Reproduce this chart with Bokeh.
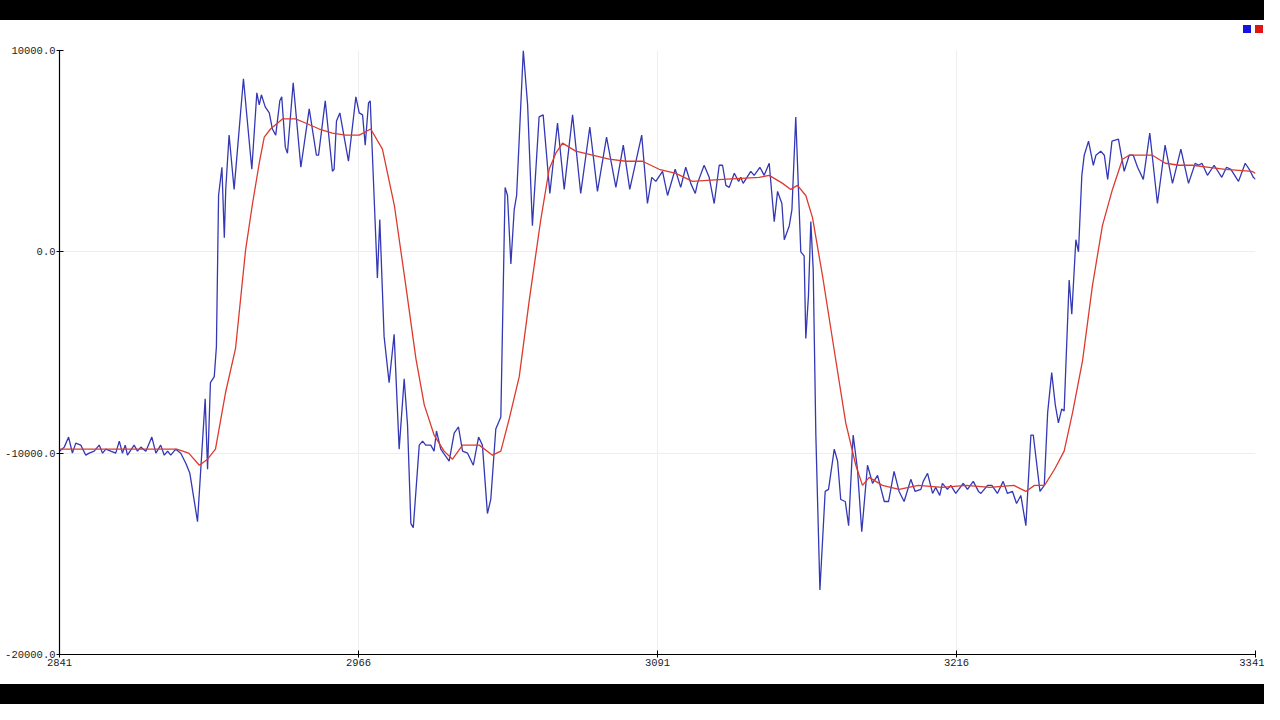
from bokeh.plotting import figure
from bokeh.models import Range1d, FixedTicker, PrintfTickFormatter, Div
from bokeh.layouts import column
from bokeh.embed import file_html
from bokeh.resources import INLINE

x_ticks = [2841, 2966, 3091, 3216, 3341]
y_ticks = [-20000, -10000, 0, 10000]
series_colors = ["#3438b4", "#dd3a2e"]
swatch_colors = ["#1414dc", "#e01414"]

blue_samples = [
    2841, 2843, 2844.8, 2846.4, 2847.8, 2849.9, 2852, 2853.4, 2855.5, 2857.6,
    2859, 2860.4, 2862.4, 2864.5, 2866, 2867.3, 2868.5, 2869.4, 2872.2, 2873.6,
    2875, 2877.1, 2879.6, 2881.3, 2883.3, 2884.8, 2886.2, 2887.5, 2889.6, 2891.7,
    2893.8, 2895.5, 2898.7, 2901.9, 2902.9, 2904.1, 2905.7, 2906.6, 2907.5, 2908.9,
    2909.9, 2910.5, 2911.9, 2914, 2917.9, 2919.6, 2921.4, 2923.5, 2924.5, 2925.4,
    2927, 2928.7, 2930, 2931.4, 2933.1, 2933.9, 2935.4, 2936.3, 2938.7, 2941.9,
    2945.4, 2948.4, 2949.3, 2952.1, 2955.1, 2955.8, 2956.8, 2958.2, 2961.8, 2964.9,
    2966.3, 2967.7, 2968.8, 2970.2, 2970.9, 2973.9, 2974.9, 2976.7, 2978.8, 2980.9,
    2983, 2985.1, 2986.5, 2987.9, 2988.9, 2991.4, 2992.8, 2994.1, 2996.2, 2997.6,
    2998.6, 3000.4, 3003.9, 3006, 3007.8, 3009.5, 3011.6, 3014, 3016.2, 3017.8,
    3019.9, 3021.3, 3023.4, 3025.5, 3027.3, 3028.3, 3029.7, 3031.1, 3032.1, 3034.9,
    3036.7, 3038.7, 3041.5, 3043.2, 3046, 3049.2, 3052, 3055.5, 3058.9, 3062.7,
    3065.9, 3069.7, 3073.6, 3076.7, 3079.4, 3084.4, 3086.8, 3088.6, 3090.3, 3093.1,
    3095.2, 3098.4, 3100.7, 3102.8, 3104.9, 3106.8, 3107.7, 3110.5, 3112.6, 3114.7,
    3116.8, 3118.2, 3119.6, 3121, 3123.1, 3124.9, 3125.8, 3126.8, 3130, 3131.4,
    3133.8, 3135.6, 3137.7, 3139.8, 3141.2, 3143, 3144, 3146.1, 3147.2, 3148.8,
    3150.9, 3152.3, 3153, 3154.1, 3155.1, 3156.1, 3157.2, 3158.9, 3161.1, 3162.5,
    3164.9, 3166.3, 3167.6, 3169.5, 3170.9, 3172.8, 3174.6, 3176.4, 3178.8, 3180.9,
    3183, 3185.8, 3187.6, 3189.9, 3192, 3194.1, 3196.9, 3198.7, 3201.1, 3202.1,
    3203.9, 3206, 3207.3, 3209, 3210.1, 3212.2, 3213.6, 3215.7, 3218.8, 3220.6,
    3223, 3225.2, 3226.2, 3229, 3230.8, 3233.1, 3235.5, 3237.3, 3239.4, 3241.1,
    3242.9, 3245, 3247.1, 3248.1, 3250.9, 3252.7, 3254.1, 3255.8, 3257.3, 3258.6,
    3260, 3261, 3263.1, 3264.2, 3265.9, 3267, 3268.4, 3269.4, 3271.2, 3273.2,
    3274.3, 3276.3, 3277.8, 3279.2, 3281, 3283.7, 3286.1, 3288.2, 3289.9, 3291.7,
    3294.1, 3296.8, 3300, 3303.2, 3306.3, 3309.8, 3313, 3315.8, 3317.2, 3318.6,
    3320.9, 3323.7, 3326.9, 3328.9, 3330.7, 3333.9, 3336.7, 3338.4, 3340.1, 3341,
]
blue_values = [
    -9900, -9700, -9200, -10000, -9500, -9600, -10100, -10000, -9900, -9600,
    -10000, -9800, -9900, -10000, -9400, -10000, -9600, -10100, -9600, -9900,
    -9700, -9900, -9200, -10000, -9600, -10100, -9900, -10100, -9800, -10000,
    -10500, -11000, -13400, -7300, -10800, -6500, -6200, -4700, 2800, 4200,
    700, 3100, 5800, 3100, 8600, 6400, 4100, 7900, 7300, 7800,
    7200, 6900, 6100, 5800, 7500, 7700, 5200, 4900, 8400, 4200,
    7100, 4800, 4800, 7500, 4000, 4100, 6500, 6900, 4500, 7700,
    6900, 6800, 5300, 7400, 7500, -1300, 1600, -4200, -6500, -4100,
    -9800, -6300, -8600, -13500, -13700, -9600, -9400, -9600, -9600, -9900,
    -8900, -9800, -10400, -9000, -8700, -9900, -10000, -10600, -9200, -9600,
    -13000, -12300, -8800, -8200, 3200, 2800, -600, 2100, 2800, 10000,
    7300, 1300, 6700, 6800, 2900, 6400, 3100, 6800, 2900, 6200,
    3000, 5700, 3200, 5300, 3100, 5800, 2400, 3700, 3500, 4000,
    2800, 4100, 3200, 4200, 3400, 2900, 3400, 4300, 3700, 2400,
    4300, 4300, 3300, 3200, 3900, 3500, 3700, 3400, 4000, 3800,
    4200, 3800, 4400, 1500, 3000, 2400, 600, 1300, 2100, 6700,
    0, -200, -4300, -2200, 1500, -900, -9100, -16800, -11900, -11800,
    -9800, -10400, -12300, -12400, -13600, -9100, -10800, -13900, -10600, -11500,
    -11100, -12400, -12400, -10900, -11900, -12400, -11300, -11900, -11800, -11400,
    -11000, -12000, -11700, -12100, -11500, -11800, -11600, -12000, -11500, -11800,
    -11400, -11900, -12000, -11600, -11600, -12000, -11400, -12000, -11900, -12500,
    -12100, -13600, -9100, -9100, -11900, -11600, -8000, -6000, -7600, -8500,
    -7800, -7900, -1400, -3100, 600, 0, 3800, 4800, 5500, 4300,
    4800, 5000, 4800, 3600, 5500, 5600, 4000, 4800, 4800, 4200,
    3600, 5900, 2400, 5300, 3400, 5100, 3400, 4400, 4300, 4400,
    3800, 4300, 3700, 4200, 4100, 3500, 4400, 4100, 3700, 3600,
]

red_samples = [
    2841, 2890, 2895, 2899.5, 2902.9, 2906.2, 2910.4, 2914.6, 2918.8, 2921.7,
    2924.5, 2926.6, 2929.2, 2934.2, 2939.7, 2943.8, 2949.6, 2955.1, 2960.6, 2966.3,
    2971.1, 2976, 2981, 2985.8, 2990, 2993.5, 2997.6, 3001.8, 3005.3, 3009.5,
    3016.5, 3022, 3025.5, 3029, 3033.2, 3037.4, 3042.2, 3045.7, 3048.5, 3051.3,
    3056.8, 3063.8, 3070.8, 3077.7, 3084.7, 3091.7, 3098.7, 3105.6, 3118.2, 3133.5,
    3137.7, 3143.3, 3146.7, 3149.5, 3153, 3155.8, 3160, 3164.9, 3169.7, 3173.9,
    3176.7, 3179.5, 3185, 3192, 3200, 3210, 3220, 3230, 3240, 3245,
    3248.6, 3252.8, 3257, 3261, 3264.5, 3268.7, 3272.8, 3277, 3281.2, 3285.4,
    3288.2, 3290.8, 3297.9, 3303.3, 3309, 3314.6, 3321.6, 3328.5, 3339.5, 3341,
]
red_values = [
    -9800, -9800, -10000, -10600, -10300, -9800, -7000, -4800, 100, 2400,
    4400, 5700, 6100, 6600, 6600, 6400, 6100, 5900, 5800, 5800,
    6100, 5100, 2300, -1700, -5300, -7600, -9100, -9900, -10300, -9600,
    -9600, -10100, -9900, -8300, -6200, -2400, 1600, 4100, 4900, 5400,
    5000, 4800, 4600, 4500, 4500, 4100, 3900, 3500, 3600, 3700,
    3800, 3400, 3100, 3300, 2800, 1700, -1200, -4900, -8500, -10600,
    -11600, -11200, -11600, -11800, -11600, -11700, -11600, -11700, -11600, -11900,
    -11600, -11600, -10800, -9900, -8000, -5400, -1700, 1300, 3100, 4600,
    4800, 4800, 4800, 4400, 4300, 4300, 4200, 4100, 4000, 3900,
]

assert len(blue_samples) == len(blue_values)
assert len(red_samples) == len(red_values)

PAGE_W = 1264

p = figure(width=PAGE_W, height=644,
           x_range=Range1d(2841, 3341), y_range=Range1d(-20000, 10000),
           output_backend="svg", toolbar_location=None,
           min_border_left=59, min_border_right=9,
           min_border_top=10, min_border_bottom=30)
p.outline_line_color = None
p.background_fill_color = "white"
p.border_fill_color = "white"

p.line(blue_samples, blue_values, line_color=series_colors[0], line_width=1.3)
p.line(red_samples, red_values, line_color=series_colors[1], line_width=1.3)

for ax in (p.xaxis[0], p.yaxis[0]):
    ax.axis_line_color = "black"
    ax.axis_line_width = 1.2
    ax.major_tick_line_color = "black"
    ax.minor_tick_line_color = None
    ax.major_tick_in = 4
    ax.major_tick_out = 3
    ax.major_label_text_font = "Liberation Mono"
    ax.major_label_text_font_size = "10.5px"
    ax.major_label_text_color = "#222222"
    ax.major_label_standoff = 1

p.xaxis.ticker = FixedTicker(ticks=x_ticks)
p.yaxis.ticker = FixedTicker(ticks=y_ticks)
p.xaxis.formatter = PrintfTickFormatter(format="%d")
p.yaxis.formatter = PrintfTickFormatter(format="%.1f")
p.grid.grid_line_color = "#eeeeee"
p.grid.grid_line_width = 1

# legend swatches (Arduino plotter style: coloured squares, no labels)
swatch_html = "".join(
    f'<span style="position:absolute;left:{1243 + 12 * i}px;top:5px;'
    f'width:8px;height:8px;background:{c};"></span>'
    for i, c in enumerate(swatch_colors))
legend_strip = Div(width=PAGE_W, height=20, margin=0,
                   text=f'<div style="position:relative;width:{PAGE_W}px;height:20px;">{swatch_html}</div>',
                   styles={"background-color": "white"})

top_bar = Div(width=PAGE_W, height=20, styles={"background-color": "black"}, margin=0)
bottom_bar = Div(width=PAGE_W, height=20, styles={"background-color": "black"}, margin=0)

layout = column(top_bar, legend_strip, p, bottom_bar, spacing=0)
open("out.html", "w").write(file_html(layout, INLINE))
